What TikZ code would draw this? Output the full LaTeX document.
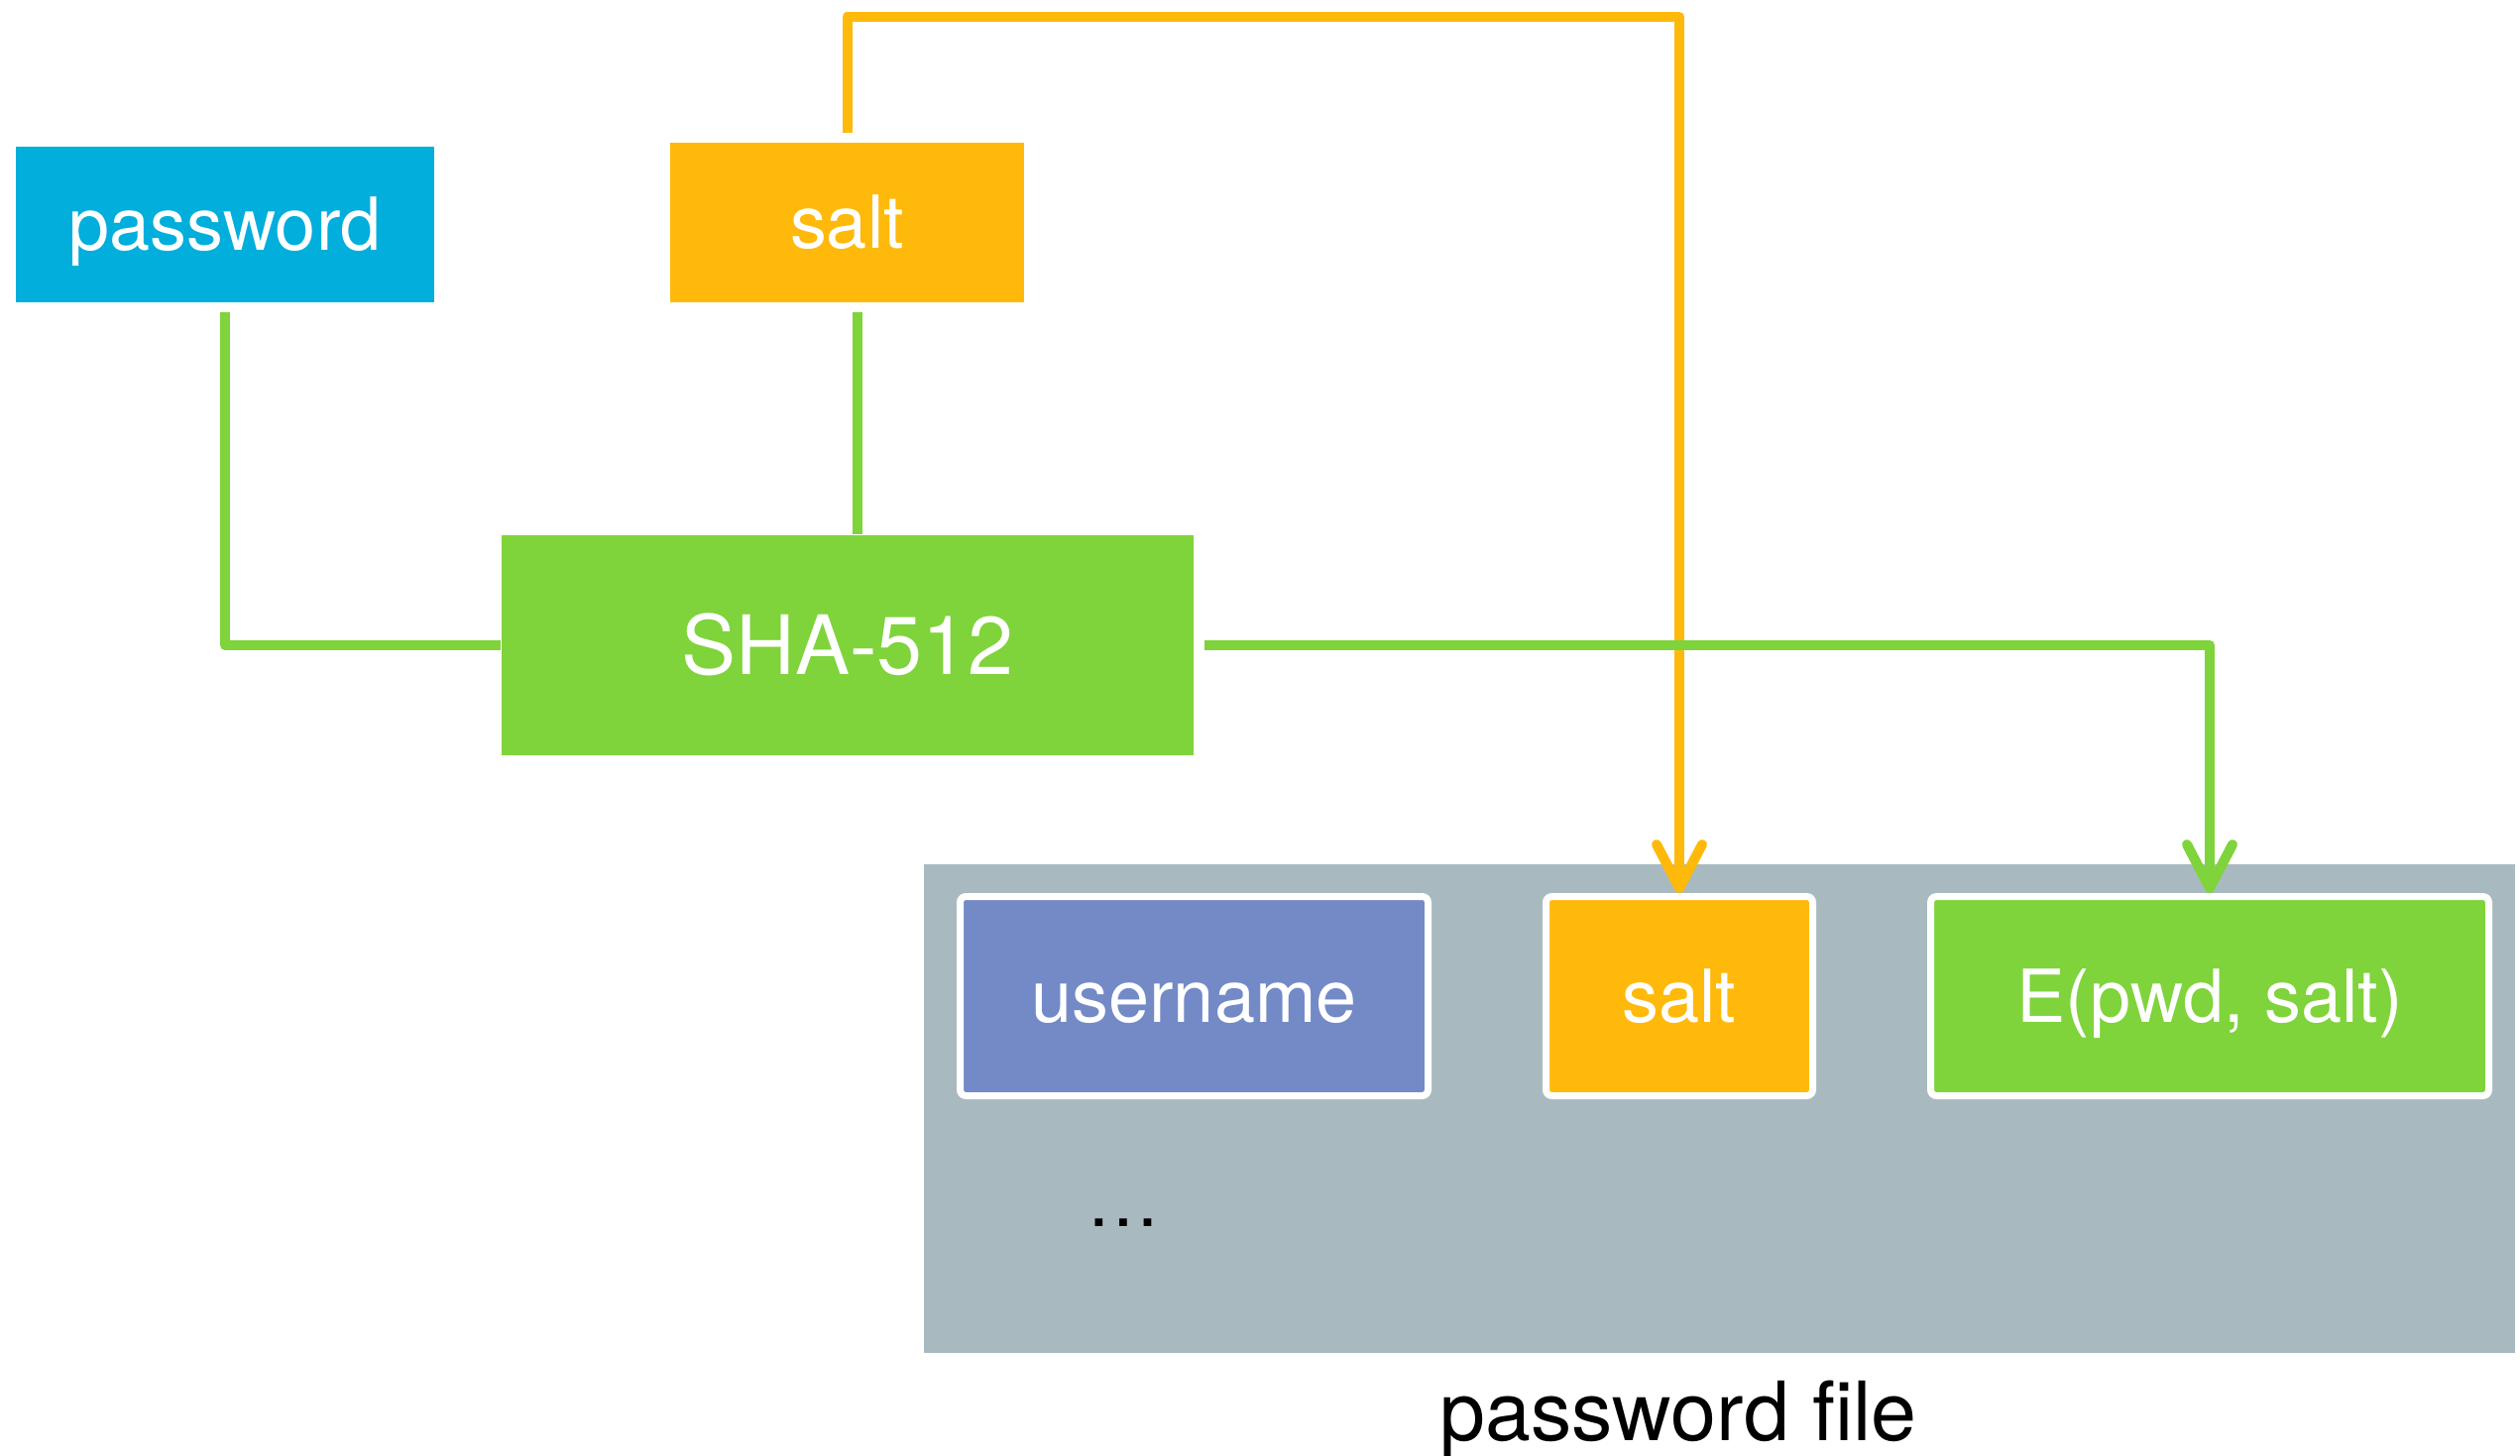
\documentclass[tikz,border=0pt]{standalone}
\usepackage{fontspec}
\setmainfont{TeX Gyre Heros}
\usepackage{xcolor}
\usepackage{tikz}
\usetikzlibrary{positioning,arrows.meta,calc}
\definecolor{pwdblue}{RGB}{1,174,220}
\definecolor{saltorange}{RGB}{254,185,11}
\definecolor{hashgreen}{RGB}{127,211,59}
\definecolor{userpurple}{RGB}{115,138,199}
\definecolor{filegrey}{RGB}{168,186,192}
\tikzset{
  box/.style={rectangle, inner sep=0pt, text=white, text height=15pt, text depth=0pt,
              font=\fontsize{21}{25}\selectfont},
  pwdbox/.style={box, fill=pwdblue, minimum width=4.22cm, minimum height=1.57cm},
  saltbox/.style={box, fill=saltorange, minimum width=3.57cm, minimum height=1.61cm},
  hashbox/.style={box, fill=hashgreen, minimum width=6.98cm, minimum height=2.22cm,
                  text height=17pt, font=\fontsize{23.5}{28}\selectfont},
  cell/.style={box, draw=white, line width=0.7mm, rounded corners=0.6mm, minimum height=2.01cm},
  filebox/.style={rectangle, fill=filegrey, inner sep=0pt, minimum width=16.05cm, minimum height=4.93cm},
  link/.style={line width=1mm, line join=round, hashgreen, shorten <=0.9mm},
  saltlink/.style={link, saltorange},
  tip/.style={-{Straight Barb[length=4.4mm, width=4.6mm, round]}}
}

\begin{document}
\begin{tikzpicture}
    \useasboundingbox (0,0) rectangle (25.42,-14.68);
    \node[pwdbox] (pwd) at (2.27,-2.265) {password};
    \node[saltbox] (salt) at (8.545,-2.245) {salt};
    \node[hashbox] (sha) at (8.55,-6.51) {SHA-512};
    % password file
    \node[filebox] (file) at (17.345,-11.185) {};
    \node[cell, fill=userpurple, minimum width=4.72cm] (user) at (12.045,-10.05) {username};
    \node[cell, fill=saltorange, minimum width=2.69cm, right=1.12cm of user] (fsalt) {salt};
    \node[cell, fill=hashgreen, minimum width=5.63cm, right=1.12cm of fsalt] (hash) {E(pwd, salt)};
    \node[font=\fontsize{21}{25}\selectfont] (dots) at (11.33,-12.34) {\dots};
    \node[anchor=base, font=\fontsize{23.5}{28}\selectfont] (flabel) at (16.93,-14.53) {password file};
    \coordinate (top) at (0,-0.17);
    \draw[saltlink, tip] (salt.north) -- (salt.north |- top) -| (fsalt.north);
    \draw[link] (pwd.south) |- (sha.west);
    \draw[link] ([xshift=1mm]salt.south) -- ([xshift=1mm]salt.south |- sha.north);
    \draw[link, tip, shorten <=1mm] (sha.east) -| (hash.north);
  \end{tikzpicture}
\end{document}
